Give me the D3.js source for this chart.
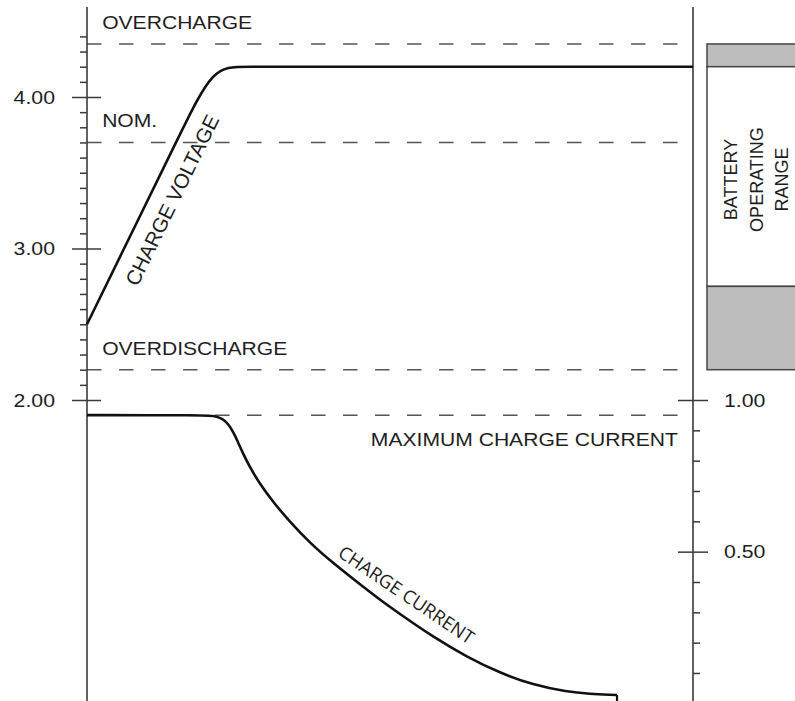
<!DOCTYPE html>
<html>
<head>
<meta charset="utf-8">
<script src="https://cdn.jsdelivr.net/npm/d3@7"></script>
<style>
  html, body { margin: 0; padding: 0; background: #fff; }
  svg { display: block; }
  text { font-family: "Liberation Sans", Arial, sans-serif; fill: #1e1e1e; }
</style>
</head>
<body>
<svg id="chart" width="795" height="701"></svg>
<script>
const width = 795;
const height = 701;

// time runs across, no x axis drawn
const timeDomain = [0, 100];

// charge voltage (V) against time, drawn as a smoothed spline
const voltageTime = [0, 8, 15.5, 20.8, 25.5, 40, 100];
const voltageValue = [2.5, 3.154, 3.766, 4.2, 4.2, 4.2, 4.2];

// charge current (A) against time
const currentTime = [0, 19.47, 21.12, 22.28, 23.27, 24.09, 24.92, 25.74, 26.9, 28.55, 30.69, 33.5, 36.8, 40.59, 44.55, 48.35, 51.65, 57.1, 62.71, 68.15, 73.6, 79.21, 83, 86.8, 87.46];
const currentValue = [0.95, 0.95, 0.947, 0.939, 0.9225, 0.896, 0.8615, 0.8236, 0.7774, 0.723, 0.664, 0.598, 0.5285, 0.4626, 0.4, 0.341, 0.2944, 0.219, 0.1527, 0.1, 0.0605, 0.0376, 0.031, 0.0277, 0.027];

// axes
const voltMajor = [2, 3, 4];
const voltMajorLabels = ["2.00", "3.00", "4.00"];
const voltMinor = [2.1, 2.2, 2.3, 2.4, 2.5, 2.6, 2.7, 2.8, 2.9, 3.1, 3.2, 3.3, 3.4, 3.5, 3.6, 3.7, 3.8, 3.9, 4.1, 4.2, 4.3, 4.4];
const currMajor = [0.5, 1.0];
const currMajorLabels = ["0.50", "1.00"];
const currMinor = [0.1, 0.2, 0.3, 0.4, 0.6, 0.7, 0.8, 0.9];

// threshold lines
const voltLevelNames = ["OVERCHARGE", "NOM.", "OVERDISCHARGE"];
const voltLevels = [4.35, 3.7, 2.2];
const maxCurrentName = "MAXIMUM CHARGE CURRENT";
const maxCurrent = 0.95;

// battery operating range column (V)
const rangeTop = [4.35, 4.2, 2.75];
const rangeBottom = [4.2, 2.75, 2.2];
const rangeShaded = [true, false, true];
const rangeLabel = ["BATTERY", "OPERATING", "RANGE"];

const svg = d3.select("#chart");

const x = d3.scaleLinear().domain(timeDomain).range([87, 693]);
const yV = d3.scaleLinear().domain([2, 4]).range([400, 97]);
const yI = d3.scaleLinear().domain([0, 1]).range([703.3, 400]);

const axisColor = "#3a3a3a";

// widen horizontal text a little, the original type is set wide
function stretch(sel, k) {
    sel.each(function () {
        const len = this.getComputedTextLength();
        d3.select(this).attr("textLength", len * k).attr("lengthAdjust", "spacingAndGlyphs");
    });
}

// dashed threshold lines
const dashG = svg.append("g")
    .attr("stroke", "#555")
    .attr("stroke-width", 1.5)
    .attr("stroke-dasharray", "14.5,17.5");
dashG.selectAll("line.v")
    .data(voltLevels)
    .enter()
    .append("line")
    .attr("class", "v")
    .attr("x1", x(0))
    .attr("x2", x(98.2))
    .attr("y1", d => yV(d))
    .attr("y2", d => yV(d));
dashG.append("line")
    .attr("x1", x(0))
    .attr("x2", x(98.2))
    .attr("y1", yI(maxCurrent))
    .attr("y2", yI(maxCurrent));

svg.selectAll("text.level")
    .data(voltLevels)
    .enter()
    .append("text")
    .attr("class", "level")
    .attr("x", x(2.5))
    .attr("y", d => yV(d) - 15)
    .attr("font-size", 19)
    .text((d, i) => voltLevelNames[i])
    .call(stretch, 1.11);

svg.append("text")
    .attr("x", x(97.5))
    .attr("y", yI(maxCurrent) + 30.5)
    .attr("text-anchor", "end")
    .attr("font-size", 19)
    .text(maxCurrentName)
    .call(stretch, 1.11);

// left axis (voltage)
svg.append("line")
    .attr("x1", x(0)).attr("x2", x(0))
    .attr("y1", 7).attr("y2", height + 5)
    .attr("stroke", axisColor).attr("stroke-width", 1.6);

const leftMinor = svg.append("g")
    .attr("transform", `translate(${x(0)},0)`)
    .call(d3.axisLeft(yV).tickValues(voltMinor).tickSize(7).tickFormat(""));
leftMinor.select(".domain").remove();
leftMinor.selectAll("line").attr("stroke", axisColor).attr("stroke-width", 1.5);

const leftMajor = svg.append("g")
    .attr("transform", `translate(${x(0)},0)`)
    .call(d3.axisLeft(yV).tickValues(voltMajor).tickSize(15).tickPadding(17)
        .tickFormat((d, i) => voltMajorLabels[i]));
leftMajor.select(".domain").remove();
leftMajor.selectAll("line").attr("x2", -15).attr("x1", 14)
    .attr("stroke", axisColor).attr("stroke-width", 1.5);
leftMajor.selectAll("text")
    .attr("font-size", 19)
    .attr("font-family", "Liberation Sans, Arial, sans-serif")
    .attr("fill", "#1e1e1e")
    .call(stretch, 1.12);

// right axis (current)
svg.append("line")
    .attr("x1", x(100)).attr("x2", x(100))
    .attr("y1", 7).attr("y2", height + 5)
    .attr("stroke", axisColor).attr("stroke-width", 1.6);

const rightMinor = svg.append("g")
    .attr("transform", `translate(${x(100)},0)`)
    .call(d3.axisRight(yI).tickValues(currMinor).tickSize(7).tickFormat(""));
rightMinor.select(".domain").remove();
rightMinor.selectAll("line").attr("stroke", axisColor).attr("stroke-width", 1.5);

const rightMajor = svg.append("g")
    .attr("transform", `translate(${x(100)},0)`)
    .call(d3.axisRight(yI).tickValues(currMajor).tickSize(15).tickPadding(16)
        .tickFormat((d, i) => currMajorLabels[i]));
rightMajor.select(".domain").remove();
rightMajor.selectAll("line").attr("x1", -15).attr("x2", 15)
    .attr("stroke", axisColor).attr("stroke-width", 1.5);
rightMajor.selectAll("text")
    .attr("font-size", 19)
    .attr("font-family", "Liberation Sans, Arial, sans-serif")
    .attr("fill", "#1e1e1e")
    .call(stretch, 1.12);

// battery operating range column
svg.selectAll("rect.range")
    .data(rangeTop)
    .enter()
    .append("rect")
    .attr("class", "range")
    .attr("x", 707)
    .attr("width", 120)
    .attr("y", d => yV(d))
    .attr("height", (d, i) => yV(rangeBottom[i]) - yV(d))
    .attr("fill", (d, i) => rangeShaded[i] ? "#bdbdbd" : "#fff")
    .attr("stroke", "#444")
    .attr("stroke-width", 1.5);

const rangeMid = (yV(rangeTop[1]) + yV(rangeBottom[1])) / 2 + 3;
svg.selectAll("text.range")
    .data(rangeLabel)
    .enter()
    .append("text")
    .attr("class", "range")
    .attr("text-anchor", "middle")
    .attr("font-size", 18)
    .attr("transform", (d, i) => `translate(${737 + i * 25.5},${rangeMid}) rotate(-90)`)
    .text(d => d);

// curves
const voltageLine = d3.line()
    .x((d, i) => x(voltageTime[i]))
    .y(d => yV(d))
    .curve(d3.curveBasis);

svg.append("path")
    .attr("d", voltageLine(voltageValue))
    .attr("fill", "none")
    .attr("stroke", "#111")
    .attr("stroke-width", 2.6);

const currentLine = d3.line()
    .x((d, i) => x(currentTime[i]))
    .y(d => yI(d))
    .curve(d3.curveBasis);

svg.append("path")
    .attr("d", currentLine(currentValue))
    .attr("fill", "none")
    .attr("stroke", "#111")
    .attr("stroke-width", 2.6);

// the current trace drops off at the end
const lastT = currentTime[currentTime.length - 1];
svg.append("line")
    .attr("x1", x(lastT)).attr("x2", x(lastT))
    .attr("y1", yI(currentValue[currentValue.length - 1]))
    .attr("y2", height + 5)
    .attr("stroke", "#111")
    .attr("stroke-width", 2.2);

// curve labels
const vAngle = Math.atan2(yV(voltageValue[2]) - yV(voltageValue[0]), x(voltageTime[2]) - x(voltageTime[0])) * 180 / Math.PI;
svg.append("text")
    .attr("transform", `translate(${x(14)},${yV(3.32)}) rotate(${vAngle})`)
    .attr("text-anchor", "middle")
    .attr("dominant-baseline", "central")
    .attr("font-size", 20.5)
    .text("CHARGE VOLTAGE");

svg.append("text")
    .attr("transform", `translate(${x(52.8)},${yI(0.36)}) rotate(34)`)
    .attr("text-anchor", "middle")
    .attr("dominant-baseline", "central")
    .attr("font-size", 18.5)
    .style("font-family", "'Open Sans', sans-serif")
    .text("CHARGE CURRENT");
</script>
</body>
</html>
